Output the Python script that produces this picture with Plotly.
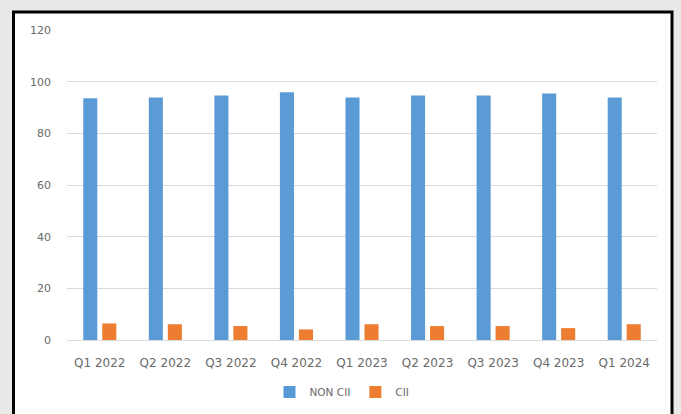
import plotly.graph_objects as go

categories = ["Q1 2022", "Q2 2022", "Q3 2022", "Q4 2022", "Q1 2023",
              "Q2 2023", "Q3 2023", "Q4 2023", "Q1 2024"]
non_cii = [93.6, 93.9, 94.6, 95.9, 93.9, 94.6, 94.6, 95.4, 93.9]
cii = [6.4, 6.1, 5.4, 4.1, 6.1, 5.4, 5.4, 4.6, 6.1]
y_ticks = [0, 20, 40, 60, 80, 100, 120]

W, H = 681, 414
L, R, T, B = 67, 24, 30, 74
pw, ph = W - L - R, H - T - B

def px_x(p):
    return (p - L) / pw

def px_y(p):
    return (H - B - p) / ph

font_main = "DejaVu Sans"
txt_color = "#6a6a6a"

fig = go.Figure()
fig.add_trace(go.Bar(x=categories, y=non_cii, name="NON CII",
                     marker=dict(color="#5B9BD5", line=dict(width=0))))
fig.add_trace(go.Bar(x=categories, y=cii, name="CII",
                     marker=dict(color="#ED7D31", line=dict(width=0))))

fig.update_layout(
    width=W, height=H,
    margin=dict(l=L, r=R, t=T, b=B, pad=0, autoexpand=False),
    paper_bgcolor="#e9e9e9",
    plot_bgcolor="rgba(0,0,0,0)",
    barmode="group",
    bargap=0.42,
    bargroupgap=0.26,
    font=dict(family=font_main, size=11, color=txt_color),
    showlegend=True,
    legend=dict(orientation="h", x=px_x(342), xanchor="center",
                y=px_y(392), yanchor="middle",
                font=dict(size=10.5, color=txt_color),
                bgcolor="rgba(0,0,0,0)", itemwidth=30),
    xaxis=dict(showgrid=False, showline=True, linecolor="#d9d9d9", linewidth=1,
               ticks="", ticklabelstandoff=12, tickfont=dict(size=12),
               fixedrange=True, automargin=False),
    yaxis=dict(range=[0, 120], tickvals=y_ticks, showgrid=True,
               gridcolor="#d9d9d9", gridwidth=1, zeroline=False,
               showline=False, ticks="", ticklabelstandoff=15,
               tickfont=dict(size=11), automargin=False, fixedrange=True),
    shapes=[dict(type="rect", xref="paper", yref="paper",
                 x0=px_x(13.5), x1=px_x(672), y0=px_y(430), y1=px_y(12),
                 fillcolor="white", line=dict(color="black", width=3),
                 layer="below")],
)

fig.write_html(
    "out.html",
    config={"displayModeBar": False},
    post_script="document.body.style.margin='0';document.body.style.overflow='hidden';",
)
